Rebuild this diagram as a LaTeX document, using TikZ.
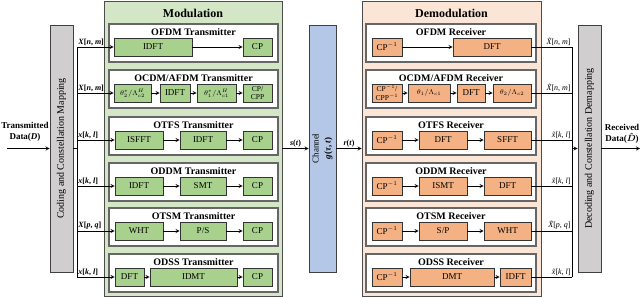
\documentclass[tikz,border=0pt]{standalone}
\usepackage{amsmath}
\usepackage{fontspec}
\setmainfont{Liberation Serif}
\usetikzlibrary{positioning}

\definecolor{modfill}{HTML}{D3E7C6}
\definecolor{txfill}{HTML}{A9D18E}
\definecolor{demodfill}{HTML}{FBE5D6}
\definecolor{rxfill}{HTML}{F4B183}
\definecolor{chanfill}{HTML}{B4C7E7}
\definecolor{barfill}{HTML}{D0CECE}

\begin{document}
\begin{tikzpicture}[
    x=1pt, y=-1pt,
    >=stealth,
    every node/.style={font=\fontsize{9}{10}\selectfont},
    outer/.style={draw=black!70, line width=0.8pt},
    bar/.style={draw=black!75, line width=0.8pt, fill=barfill, minimum width=247, minimum height=23, font=\fontsize{10}{11}\selectfont},
    subbox/.style={draw=black!60, line width=1.2pt, fill=white, minimum width=169, minimum height=38},
    txblk/.style={draw=black!80, line width=0.8pt, fill=txfill, minimum height=18, inner sep=0.5pt},
    rxblk/.style={draw=black!80, line width=0.8pt, fill=rxfill, minimum height=18, inner sep=0.5pt},
    small/.style={font=\fontsize{7.5}{8.5}\selectfont, align=center},
    mathblk/.style={font=\fontsize{7.5}{8.5}\selectfont, inner sep=0pt},
    boxtitle/.style={font=\bfseries\fontsize{10}{11}\selectfont, inner sep=0pt},
    bigtitle/.style={font=\bfseries\fontsize{12}{13}\selectfont, inner sep=0pt},
    iotext/.style={font=\bfseries\fontsize{9}{11}\selectfont, align=center, inner sep=0pt},
    sig/.style={font=\fontsize{8}{9}\selectfont, inner sep=1pt},
    link/.style={->, line width=0.8pt}
]
\useasboundingbox (0,0) rectangle (640,297);

% Input data and mapping
\node[bar, rotate=90] (map) at (61.5,148.5) {Coding and Constellation Mapping};
\node[iotext] (txdata) at (25,132) {Transmitted\\Data(\textit{D})};
\coordinate (in) at (7,148.5);
\draw[link] (in) -- (map);

% Modulation block
\node[outer, fill=modfill, minimum width=178, minimum height=295] (mod) at (193,148.5) {};
\node[bigtitle] (modt) at (193,13) {Modulation};

% OFDM transmitter
\node[subbox] (ofdmT) at (193.5,43) {};
\node[boxtitle, below=4.5pt of ofdmT.north] (ofdmTt) {OFDM Transmitter};
\node[txblk, minimum width=78] (ofdmT1) at (153,47) {IDFT};
\node[txblk, minimum width=29] (ofdmT2) at (257.5,47) {CP};
\draw[link] (ofdmT1) -- (ofdmT2);

% OCDM/AFDM transmitter
\node[subbox] (ocdmT) at (193.5,89) {};
\node[boxtitle, below=4.5pt of ocdmT.north] (ocdmTt) {OCDM/AFDM Transmitter};
\node[txblk, mathblk, minimum width=37] (ocdmT1) at (132.5,93) {$\theta_2^*/\Lambda_{c2}^H$};
\node[txblk, minimum width=30] (ocdmT2) at (175,93) {IDFT};
\node[txblk, mathblk, minimum width=39] (ocdmT3) at (216.5,93) {$\theta_1^*/\Lambda_{c1}^H$};
\node[txblk, small, minimum width=29] (ocdmT4) at (257.5,93) {CP/\\CPP};
\draw[link] (ocdmT1) -- (ocdmT2);
\draw[link] (ocdmT2) -- (ocdmT3);
\draw[link] (ocdmT3) -- (ocdmT4);

% OTFS transmitter
\node[subbox] (otfsT) at (193.5,136) {};
\node[boxtitle, below=4.5pt of otfsT.north] (otfsTt) {OTFS Transmitter};
\node[txblk, minimum width=48] (otfsT1) at (139,140) {ISFFT};
\node[txblk, minimum width=46] (otfsT2) at (203,140) {IDFT};
\node[txblk, minimum width=29] (otfsT3) at (257.5,140) {CP};
\draw[link] (otfsT1) -- (otfsT2);
\draw[link] (otfsT2) -- (otfsT3);

% ODDM transmitter
\node[subbox] (oddmT) at (193.5,182) {};
\node[boxtitle, below=4.5pt of oddmT.north] (oddmTt) {ODDM Transmitter};
\node[txblk, minimum width=48] (oddmT1) at (139,186) {IDFT};
\node[txblk, minimum width=46] (oddmT2) at (203,186) {SMT};
\node[txblk, minimum width=29] (oddmT3) at (257.5,186) {CP};
\draw[link] (oddmT1) -- (oddmT2);
\draw[link] (oddmT2) -- (oddmT3);

% OTSM transmitter
\node[subbox] (otsmT) at (193.5,227) {};
\node[boxtitle, below=4.5pt of otsmT.north] (otsmTt) {OTSM Transmitter};
\node[txblk, minimum width=48] (otsmT1) at (139,231) {WHT};
\node[txblk, minimum width=46] (otsmT2) at (203,231) {P/S};
\node[txblk, minimum width=29] (otsmT3) at (257.5,231) {CP};
\draw[link] (otsmT1) -- (otsmT2);
\draw[link] (otsmT2) -- (otsmT3);

% ODSS transmitter
\node[subbox] (odssT) at (193.5,273) {};
\node[boxtitle, below=4.5pt of odssT.north] (odssTt) {ODSS Transmitter};
\node[txblk, minimum width=29] (odssT1) at (129.5,277) {DFT};
\node[txblk, minimum width=87] (odssT2) at (193.5,277) {IDMT};
\node[txblk, minimum width=29] (odssT3) at (257.5,277) {CP};
\draw[link] (odssT1) -- (odssT2);
\draw[link] (odssT2) -- (odssT3);

% Transmit bus
\coordinate (lbus) at (77,148.5);
\coordinate (lb1) at (77,47);
\coordinate (lb2) at (77,93);
\coordinate (lb3) at (77,140);
\coordinate (lb4) at (77,186);
\coordinate (lb5) at (77,231);
\coordinate (lb6) at (77,277);
\draw[line width=1.2pt] (map) -- (lbus);
\draw[line width=0.8pt] (lb1) -- (lb6);
\draw[link] (lb1) -- (ofdmT1) node[sig, pos=0, above right] {\textbf{\textit{X}[\textit{n}, \textit{m}]}};
\draw[link] (lb2) -- (ocdmT1) node[sig, pos=0, above right] {\textbf{\textit{X}[\textit{n}, \textit{m}]}};
\draw[link] (lb3) -- (otfsT1) node[sig, pos=0, above right] {\textbf{\textit{x}[\textit{k}, \textit{l}]}};
\draw[link] (lb4) -- (oddmT1) node[sig, pos=0, above right] {\textbf{\textit{x}[\textit{k}, \textit{l}]}};
\draw[link] (lb5) -- (otsmT1) node[sig, pos=0, above right] {\textbf{\textit{X}[\textit{p}, \textit{q}]}};
\draw[link] (lb6) -- (odssT1) node[sig, pos=0, above right] {\textbf{\textit{x}[\textit{k}, \textit{l}]}};

% Channel
\node[draw=black!75, line width=0.8pt, fill=chanfill, rotate=90, minimum width=247, minimum height=27,
      align=center, font=\fontsize{9}{12}\selectfont] (chan) at (322.5,148.5) {Channel\\\textbf{\textit{g}(\textit{τ}, \textit{t})}};
\draw[link] (mod) -- (chan) node[sig, midway, above] {\textbf{\textit{s}(\textit{t})}};

% Demodulation block
\node[outer, fill=demodfill, minimum width=179, minimum height=295] (demod) at (451.5,148.5) {};
\node[bigtitle] (demodt) at (451.5,13) {Demodulation};
\draw[link] (chan) -- (demod) node[sig, midway, above] {\textbf{\textit{r}(\textit{t})}};

% OFDM receiver
\node[subbox, minimum width=170] (ofdmR) at (451,43) {};
\node[boxtitle, below=4.5pt of ofdmR.north] (ofdmRt) {OFDM Receiver};
\node[rxblk, minimum width=30] (ofdmR1) at (387,47) {CP$^{-1}$};
\node[rxblk, minimum width=78] (ofdmR2) at (492,47) {DFT};
\draw[link] (ofdmR1) -- (ofdmR2);

% OCDM/AFDM receiver
\node[subbox, minimum width=170] (ocdmR) at (451,89) {};
\node[boxtitle, below=4.5pt of ocdmR.north] (ocdmRt) {OCDM/AFDM Receiver};
\node[rxblk, small, minimum width=30] (ocdmR1) at (387,93) {CP$^{-1}$/\\CPP$^{-1}$};
\node[rxblk, mathblk, minimum width=42] (ocdmR2) at (429,93) {$\theta_1/\Lambda_{c1}$};
\node[rxblk, minimum width=28] (ocdmR3) at (471,93) {DFT};
\node[rxblk, mathblk, minimum width=38] (ocdmR4) at (512,93) {$\theta_2/\Lambda_{c2}$};
\draw[link] (ocdmR1) -- (ocdmR2);
\draw[link] (ocdmR2) -- (ocdmR3);
\draw[link] (ocdmR3) -- (ocdmR4);

% OTFS receiver
\node[subbox, minimum width=170] (otfsR) at (451,136) {};
\node[boxtitle, below=4.5pt of otfsR.north] (otfsRt) {OTFS Receiver};
\node[rxblk, minimum width=30] (otfsR1) at (387,140) {CP$^{-1}$};
\node[rxblk, minimum width=48] (otfsR2) at (443,140) {DFT};
\node[rxblk, minimum width=47] (otfsR3) at (507.5,140) {SFFT};
\draw[link] (otfsR1) -- (otfsR2);
\draw[link] (otfsR2) -- (otfsR3);

% ODDM receiver
\node[subbox, minimum width=170] (oddmR) at (451,182) {};
\node[boxtitle, below=4.5pt of oddmR.north] (oddmRt) {ODDM Receiver};
\node[rxblk, minimum width=30] (oddmR1) at (387,186) {CP$^{-1}$};
\node[rxblk, minimum width=48] (oddmR2) at (443,186) {ISMT};
\node[rxblk, minimum width=47] (oddmR3) at (507.5,186) {DFT};
\draw[link] (oddmR1) -- (oddmR2);
\draw[link] (oddmR2) -- (oddmR3);

% OTSM receiver
\node[subbox, minimum width=170] (otsmR) at (451,227) {};
\node[boxtitle, below=4.5pt of otsmR.north] (otsmRt) {OTSM Receiver};
\node[rxblk, minimum width=30] (otsmR1) at (387,231) {CP$^{-1}$};
\node[rxblk, minimum width=48] (otsmR2) at (443,231) {S/P};
\node[rxblk, minimum width=47] (otsmR3) at (507.5,231) {WHT};
\draw[link] (otsmR1) -- (otsmR2);
\draw[link] (otsmR2) -- (otsmR3);

% ODSS receiver
\node[subbox, minimum width=170] (odssR) at (451,273) {};
\node[boxtitle, below=4.5pt of odssR.north] (odssRt) {ODSS Receiver};
\node[rxblk, minimum width=30] (odssR1) at (387,277) {CP$^{-1}$};
\node[rxblk, minimum width=84] (odssR2) at (452,277) {DMT};
\node[rxblk, minimum width=31] (odssR3) at (515.5,277) {IDFT};
\draw[link] (odssR1) -- (odssR2);
\draw[link] (odssR2) -- (odssR3);

% Demapping bar and output
\node[bar, rotate=90] (demap) at (589.5,148.5) {Decoding and Constellation Demapping};
\node[iotext] (rxdata) at (622,134) {Received\\Data($\boldsymbol{\hat{D}}$)};
\coordinate (out) at (640,148.5);
\draw[link] (demap) -- (out);

% Receive bus
\coordinate (rbus) at (572,148.5);
\coordinate (rb1) at (572,47);
\coordinate (rb2) at (572,93);
\coordinate (rb3) at (572,140);
\coordinate (rb4) at (572,186);
\coordinate (rb5) at (572,231);
\coordinate (rb6) at (572,277);
\draw[line width=0.8pt] (rb1) -- (rb6);
\draw[link] (rbus) -- (demap);
\draw[line width=0.8pt] (ofdmR2) -- (rb1) node[sig, pos=1, above left] {{\itshape\~{X}}[\textit{n}, \textit{m}]};
\draw[line width=0.8pt] (ocdmR4) -- (rb2) node[sig, pos=1, above left] {{\itshape\~{X}}[\textit{n}, \textit{m}]};
\draw[line width=0.8pt] (otfsR3) -- (rb3) node[sig, pos=1, above left] {{\itshape\~{x}}[\textit{k}, \textit{l}]};
\draw[line width=0.8pt] (oddmR3) -- (rb4) node[sig, pos=1, above left] {{\itshape\~{x}}[\textit{k}, \textit{l}]};
\draw[line width=0.8pt] (otsmR3) -- (rb5) node[sig, pos=1, above left] {{\itshape\~{X}}[\textit{p}, \textit{q}]};
\draw[line width=0.8pt] (odssR3) -- (rb6) node[sig, pos=1, above left] {{\itshape\~{x}}[\textit{k}, \textit{l}]};

\end{tikzpicture}
\end{document}
